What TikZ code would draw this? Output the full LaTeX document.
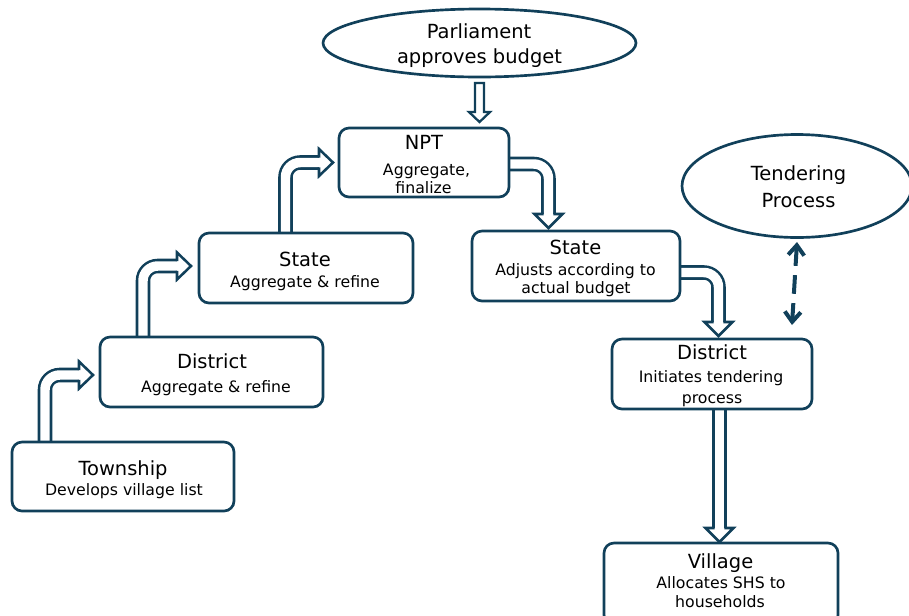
\documentclass[tikz,border=0pt]{standalone}
\usepackage{fontspec}
\setmainfont{DejaVu Sans}
\usetikzlibrary{shapes.geometric,calc,arrows.meta,backgrounds}
\definecolor{edge}{HTML}{11405A}
\tikzset{
  box/.style={draw=edge, line width=2pt, rounded corners=7.5pt, fill=white, inner sep=0pt, outer sep=0pt},
  oval/.style={ellipse, draw=edge, line width=2pt, fill=white, inner sep=0pt, outer sep=0pt},
  ttl/.style={anchor=base, inner sep=0pt, font=\fontsize{14.6pt}{17pt}\selectfont, text=black},
  sub/.style={anchor=base, inner sep=0pt, font=\fontsize{11.8pt}{14pt}\selectfont, text=black},
  shaft/.style={draw=edge, line width=1.9pt, double=white, double distance=7.1pt, rounded corners=11pt},
  headR/.pic={\filldraw[fill=white, draw=edge, line width=1.9pt, line join=miter, miter limit=10]
     (-14,-4.8) -- (-14,-13.5) -- (0,0) -- (-14,13.5) -- (-14,4.8);},
  headD/.pic={\filldraw[fill=white, draw=edge, line width=1.9pt, line join=miter, miter limit=10]
     (-4.8,-14) -- (-14,-14) -- (0,0) -- (14,-14) -- (4.8,-14);},
  smallD/.pic={\filldraw[fill=white, draw=edge, line width=1.7pt, line join=miter, miter limit=10]
     (-4.6,-39) -- (4.6,-39) -- (4.6,-10) -- (10.5,-10) -- (0,0) -- (-10.5,-10) -- (-4.6,-10) -- cycle;},
  dasharrow/.style={draw=edge, line width=3pt, dash pattern=on 14pt off 7pt,
     {Straight Barb[length=7.5pt,width=12pt]}-{Straight Barb[length=7.5pt,width=12pt]}}
}
\begin{document}
\begin{tikzpicture}[x=0.75pt,y=-0.75pt]
\useasboundingbox (0,0) rectangle (909,615);
% shapes
\node[oval, minimum width=234.75pt, minimum height=51pt] (parl) at (479.5,43) {};
\node[oval, minimum width=172.5pt, minimum height=77.25pt] (tend) at (797,186) {};
\node[box, minimum width=166.5pt, minimum height=51.75pt] (town) at (123,476.5) {};
\node[box, minimum width=167.25pt, minimum height=52.5pt] (dist1) at (211.5,372) {};
\node[box, minimum width=160.5pt, minimum height=52.5pt] (state1) at (306,268) {};
\node[box, minimum width=127.5pt, minimum height=51.75pt] (npt) at (424,162.5) {};
\node[box, minimum width=156pt, minimum height=52.5pt] (state2) at (576,266) {};
\node[box, minimum width=150pt, minimum height=52.5pt] (dist2) at (712,374) {};
\node[box, minimum width=175.5pt, minimum height=61.5pt] (vill) at (721,584) {};
% texts
\node[ttl] (parlA) at (479,38) {Parliament};
\node[ttl] (parlB) at (479.5,63) {approves budget};
\node[ttl] (tendA) at (798.5,180) {Tendering};
\node[ttl] (tendB) at (798.5,207) {Process};
\node[ttl] (nptA) at (424,149) {NPT};
\node[sub] (nptB) at (426.5,175) {Aggregate,};
\node[sub] (nptC) at (423.5,193) {finalize};
\node[ttl] (state1A) at (305,266) {State};
\node[sub] (state1B) at (305,287) {Aggregate \& refine};
\node[ttl] (dist1A) at (212,368) {District};
\node[sub] (dist1B) at (216,392) {Aggregate \& refine};
\node[ttl] (townA) at (123,475) {Township};
\node[sub] (townB) at (124,495) {Develops village list};
\node[ttl] (state2A) at (575.5,254) {State};
\node[sub] (state2B) at (575.5,275) {Adjusts according to};
\node[sub] (state2C) at (576,293) {actual budget};
\node[ttl] (dist2A) at (712,359) {District};
\node[sub] (dist2B) at (711,382) {Initiates tendering};
\node[sub] (dist2C) at (712,403) {process};
\node[ttl] (villA) at (720.5,568) {Village};
\node[sub] (villB) at (721,588) {Allocates SHS to};
\node[sub] (villC) at (720,607) {households};
% connectors
\begin{pgfonlayer}{background}
\coordinate (t1) at ($(dist1.west)+(-7,3)$);
\draw[shaft] ($(town.north west)+(33,0)$) |- ($(t1)+(-13,0)$);
\pic at (t1) {headR};
\coordinate (t2) at ($(state1.west)+(-8,-2)$);
\draw[shaft] ($(dist1.north west)+(43,0)$) |- ($(t2)+(-13,0)$);
\pic at (t2) {headR};
\coordinate (t3) at ($(npt.west)+(-6,0)$);
\draw[shaft] ($(state1.north west)+(86.5,0)$) |- ($(t3)+(-13,0)$);
\pic at (t3) {headR};
\coordinate (t4) at ($(state2.north)+(-27.5,-3)$);
\draw[shaft] ($(npt.east)+(0,1.5)$) -| ($(t4)+(0,-13)$);
\pic at (t4) {headD};
\coordinate (t5) at ($(dist2.north)+(6.5,-3)$);
\draw[shaft] ($(state2.east)+(0,6.5)$) -| ($(t5)+(0,-13)$);
\pic at (t5) {headD};
\coordinate (t6) at ($(vill.north)+(-1.5,-1)$);
\draw[shaft] (dist2.south -| t6) -- ($(t6)+(0,-13)$);
\pic at (t6) {headD};
\coordinate (t7) at ($(npt.north -| parl.south)+(0,-6)$);
\pic at (t7) {smallD};
\end{pgfonlayer}
\draw[dasharrow] ($(tend.south)+(0,4.5)$) -- ($(dist2.north)+(80,-14)$);
\end{tikzpicture}
\end{document}
